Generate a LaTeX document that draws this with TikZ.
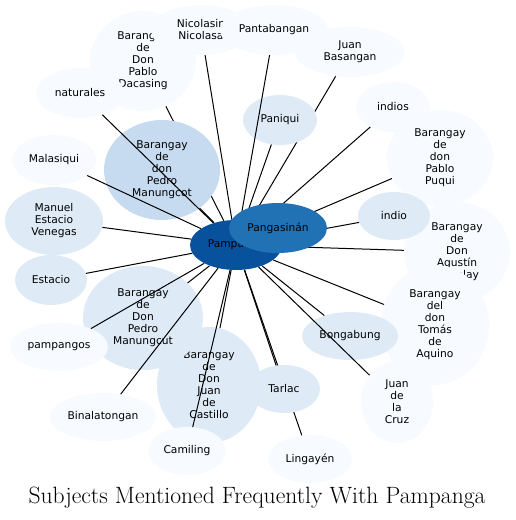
\documentclass[tikz,border=0pt]{standalone}
\usepackage{fontspec}
\newfontfamily\labelfont{DejaVu Sans}
\usetikzlibrary{shapes.geometric}
\definecolor{bluesA}{HTML}{F7FBFF}
\definecolor{bluesB}{HTML}{DEEBF7}
\definecolor{bluesC}{HTML}{C6DBEF}
\definecolor{bluesD}{HTML}{2171B5}
\definecolor{bluesE}{HTML}{08519C}
\pgfdeclarelayer{front}
\pgfsetlayers{main,front}

\begin{document}
\begin{tikzpicture}[x=1pt, y=-1pt,
    subj/.style={ellipse, fill=bluesA, inner sep=0pt, align=center,
                 font=\labelfont\fontsize{10.7}{12}\selectfont},
    sz/.style 2 args={minimum width=#1pt, minimum height=#2pt},
    lite/.style={subj, fill=bluesB},
    mid/.style={subj, fill=bluesC},
    hub/.style={subj, fill=bluesE},
    link/.style={draw=black, line width=1pt},
  ]
    \useasboundingbox (0,0) rectangle (515,520);

    \begin{pgfonlayer}{front}
      \node[hub, sz={92}{50}] (pamp) at (236,245) {Pampanga};
      \node[subj, fill=bluesD, sz={98}{50}] (pang) at (278,228) {Pangasinán};
    \end{pgfonlayer}

    \node[subj, sz={106}{100}] (dacasing) at (143,61) {Barangay\\de\\Don\\Pablo\\Dacasing};
    \draw[link] (pamp) -- (dacasing);
    \node[subj, sz={100}{50}] (nicolasin) at (201,30) {Nicolasin\\Nicolasa};
    \draw[link] (pamp) -- (nicolasin);
    \node[subj, sz={110}{50}] (basangan) at (350,52) {Juan\\Basangan};
    \draw[link] (pamp) -- (basangan);
    \node[lite, sz={74}{50}] (paniqui) at (280,120) {Paniqui};
    \draw[link] (pamp) -- (paniqui);
    \node[subj, sz={108}{50}] (pantab) at (274,30) {Pantabangan};
    \draw[link] (pamp) -- (pantab);
    \node[mid, sz={116}{100}] (manungcot) at (162,170) {Barangay\\de\\don\\Pedro\\Manungcot};
    \draw[link] (pamp) -- (manungcot);
    \node[subj, sz={88}{50}] (naturales) at (80,93) {naturales};
    \draw[link] (pamp) -- (naturales);
    \node[subj, sz={84}{50}] (malasiqui) at (54,160) {Malasiqui};
    \draw[link] (pamp) -- (malasiqui);
    \node[lite, sz={98}{68}] (venegas) at (54,221) {Manuel\\Estacio\\Venegas};
    \draw[link] (pamp) -- (venegas);
    \node[lite, sz={72}{50}] (estacio) at (51,280) {Estacio};
    \draw[link] (pamp) -- (estacio);
    \node[lite, sz={104}{116}] (castillo) at (209,385) {Barangay\\de\\Don\\Juan\\de\\Castillo};
    \draw[link] (pamp) -- (castillo);
    \node[lite, sz={120}{104}] (manungcut) at (143,318) {Barangay\\de\\Don\\Pedro\\Manungcut};
    \draw[link] (pamp) -- (manungcut);
    \node[subj, sz={98}{48}] (pampangos) at (59,347) {pampangos};
    \draw[link] (pamp) -- (pampangos);
    \node[subj, sz={106}{48}] (binalat) at (103,417) {Binalatongan};
    \draw[link] (pamp) -- (binalat);
    \node[subj, sz={78}{48}] (camiling) at (187,451) {Camiling};
    \draw[link] (pamp) -- (camiling);
    \node[subj, sz={84}{48}] (lingayen) at (310,459) {Lingayén};
    \draw[link] (pamp) -- (lingayen);
    \node[lite, sz={72}{48}] (tarlac) at (284,389) {Tarlac};
    \draw[link] (pamp) -- (tarlac);
    \node[subj, sz={106}{100}] (agustin) at (457,252) {Barangay\\de\\Don\\Agustín\\Macalay};
    \draw[link] (pamp) -- (agustin);
    \node[subj, sz={108}{120}] (aquino) at (435,325) {Barangay\\del\\don\\Tomás\\de\\Aquino};
    \draw[link] (pamp) -- (aquino);
    \node[lite, sz={96}{48}] (bongabung) at (350,336) {Bongabung};
    \draw[link] (pamp) -- (bongabung);
    \node[subj, sz={72}{82}] (delacruz) at (397,402) {Juan\\de\\la\\Cruz};
    \draw[link] (pamp) -- (delacruz);
    \node[subj, sz={106}{96}] (puqui) at (440,158) {Barangay\\de\\don\\Pablo\\Puqui};
    \draw[link] (pamp) -- (puqui);
    \node[subj, sz={74}{50}] (indios) at (393,107) {indios};
    \draw[link] (pamp) -- (indios);
    \node[lite, sz={72}{48}] (indio) at (394,216) {indio};
    \draw[link] (pamp) -- (indio);

    \node[font=\fontsize{23.6}{26}\selectfont] (title) at (257,498) {Subjects Mentioned Frequently With Pampanga};
  \end{tikzpicture}
\end{document}
